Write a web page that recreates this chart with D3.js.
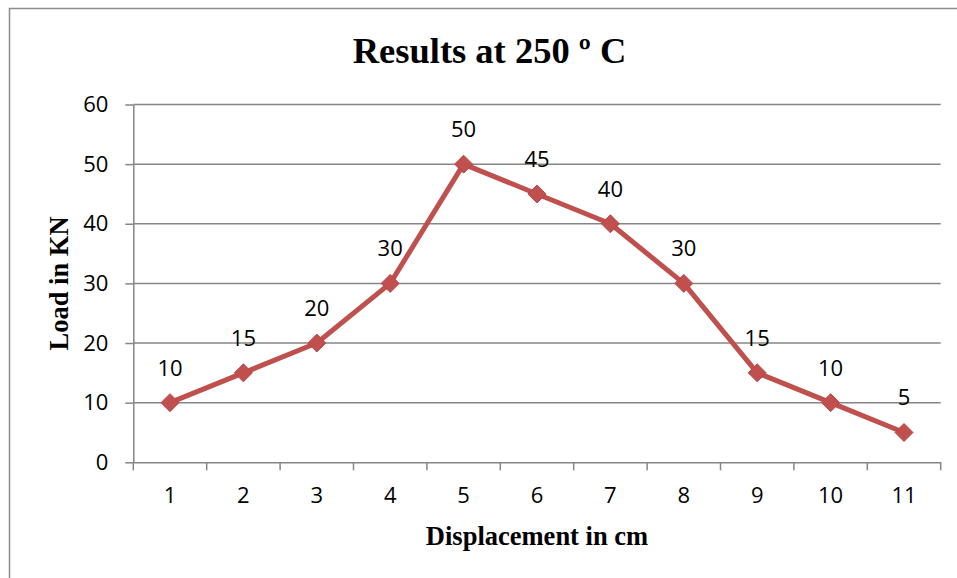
<!DOCTYPE html>
<html><head><meta charset="utf-8">
<script src="https://cdn.jsdelivr.net/npm/d3@7"></script>
<style>body{margin:0;background:#fff}svg{display:block}</style>
</head><body>
<script>
const categories = ["1","2","3","4","5","6","7","8","9","10","11"];
const loads = [10,15,20,30,50,45,40,30,15,10,5];
const yTicks = [0,10,20,30,40,50,60];
const chartTitle = "Results at 250 º C";
const xTitle = "Displacement in cm";
const yTitle = "Load in KN";

const W = 957, H = 578;
const svg = d3.select("body").append("svg").attr("width", W).attr("height", H);
const L = 133.3, R = 940.7, T = 104.5, B = 462.3;
const x = d3.scaleBand().domain(categories).range([L, R]);
const y = d3.scaleLinear().domain([0, 60]).range([B, T]);
const grey = "#868686";
const labelFont = "Open Sans, Noto Sans, sans-serif";

// outer chart border
svg.append("path").attr("d", `M9.5,${H+5} V8.5 H${W+5}`)
  .attr("fill","none").attr("stroke","#8c8c8c").attr("stroke-width",1.5);

// gridlines
svg.append("g").selectAll("line").data(yTicks.filter(d=>d>0)).join("line")
  .attr("x1", L).attr("x2", R).attr("y1", d=>y(d)).attr("y2", d=>y(d))
  .attr("stroke", grey).attr("stroke-width", 1.5);

// y axis
const yAxis = svg.append("g").attr("transform", `translate(${L},0)`)
  .call(d3.axisLeft(y).tickValues(yTicks).tickSize(8).tickPadding(17).tickSizeOuter(0));
yAxis.select(".domain").attr("stroke", grey).attr("stroke-width", 1.5);
yAxis.selectAll(".tick line").attr("stroke", grey).attr("stroke-width", 1.5);
yAxis.selectAll("text").attr("font-family", labelFont).attr("font-size", 22).attr("fill","#000");

// x axis
const xAxis = svg.append("g").attr("transform", `translate(0,${B})`)
  .call(d3.axisBottom(x).tickSize(0).tickPadding(25));
xAxis.select(".domain").attr("stroke", grey).attr("stroke-width", 1.5);
xAxis.selectAll("text").attr("font-family", labelFont).attr("font-size", 22).attr("fill","#000");
// boundary tick marks between categories
const bounds = categories.map(c => x(c)).concat([R]);
xAxis.append("g").selectAll("line").data(bounds).join("line")
  .attr("x1", d=>d).attr("x2", d=>d).attr("y1", 0).attr("y2", 8)
  .attr("stroke", grey).attr("stroke-width", 1.5);

const cx = c => x(c) + x.bandwidth()/2;
const pts = categories.map((c,i)=>({c, v: loads[i]}));

// line
svg.append("path").datum(pts)
  .attr("d", d3.line().x(d=>cx(d.c)).y(d=>y(d.v)))
  .attr("fill","none").attr("stroke","#C0504D").attr("stroke-width",5).attr("stroke-linejoin","round");

// markers
svg.append("g").selectAll("path").data(pts).join("path")
  .attr("transform", d=>`translate(${cx(d.c)},${y(d.v)})`)
  .attr("d", "M0,-9 L9,0 L0,9 L-9,0Z")
  .attr("fill","#C0504D").attr("stroke","#B9474A").attr("stroke-width",1);

// data labels
svg.append("g").selectAll("text").data(pts).join("text")
  .attr("x", d=>cx(d.c)).attr("y", d=>y(d.v) - 27)
  .attr("text-anchor","middle").attr("font-family", labelFont).attr("font-size", 22)
  .attr("fill","#000").text(d=>d.v);

// titles
svg.append("text").attr("x", 489.5).attr("y", 63).attr("text-anchor","middle")
  .attr("font-family","Liberation Serif, Times New Roman, serif").attr("font-weight","bold")
  .attr("font-size", 36.5).text(chartTitle);
svg.append("text").attr("x", 537).attr("y", 545).attr("text-anchor","middle")
  .attr("font-family","Liberation Serif, Times New Roman, serif").attr("font-weight","bold")
  .attr("font-size", 26.5).text(xTitle);
svg.append("text").attr("transform", `translate(68,283.5) rotate(-90)`).attr("text-anchor","middle")
  .attr("font-family","Liberation Serif, Times New Roman, serif").attr("font-weight","bold")
  .attr("font-size", 26.5).text(yTitle);
</script>
</body></html>
